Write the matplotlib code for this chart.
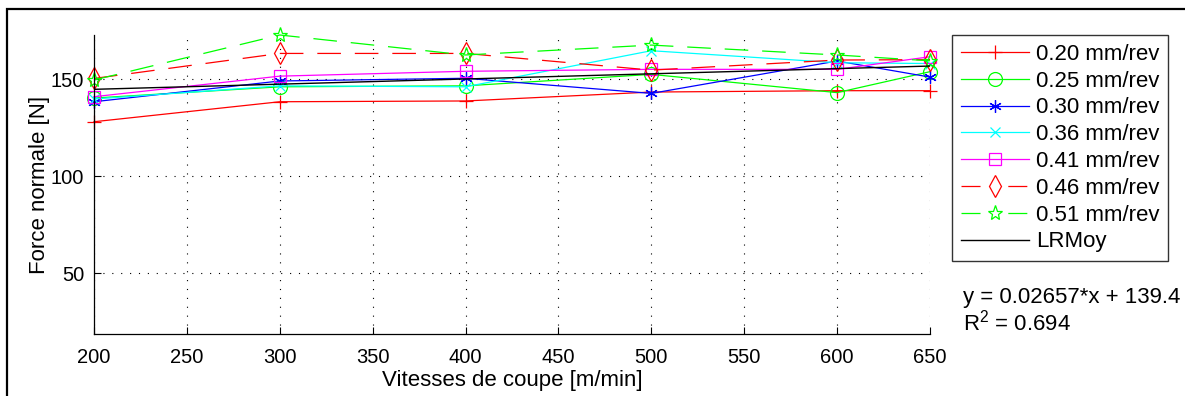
import matplotlib
matplotlib.use("Agg")
import matplotlib.pyplot as plt
from matplotlib.patches import Rectangle

plt.rcParams['font.family'] = ['Liberation Sans', 'DejaVu Sans']
plt.rcParams['mathtext.fontset'] = 'custom'
plt.rcParams['mathtext.rm'] = 'Liberation Sans'
plt.rcParams['mathtext.it'] = 'Liberation Sans'

# ---- data ----
speeds = [200, 300, 400, 500, 600, 650]
labels = ['0.20 mm/rev', '0.25 mm/rev', '0.30 mm/rev', '0.36 mm/rev',
          '0.41 mm/rev', '0.46 mm/rev', '0.51 mm/rev']
f020 = [128.0, 138.3, 138.7, 143.3, 144.0, 144.0]
f025 = [140.2, 146.0, 146.5, 152.4, 143.0, 153.8]
f030 = [138.3, 149.0, 150.4, 142.6, 159.3, 151.0]
f036 = [139.7, 146.5, 146.0, 164.6, 158.4, 158.0]
f041 = [140.9, 151.5, 154.0, 155.0, 155.0, 161.5]
f046 = [150.3, 163.2, 163.2, 154.6, 159.8, 160.0]
f051 = [149.5, 172.7, 162.4, 167.5, 162.4, 159.4]
series = [f020, f025, f030, f036, f041, f046, f051]
lr_x = [200, 650]
lr_y = [144.7, 156.7]
lr_label = 'LRMoy'
eq_text = 'y = 0.02657*x + 139.4'
r2_text = 'R$^2$ = 0.694'
xticks = [200, 250, 300, 350, 400, 450, 500, 550, 600, 650]
yticks = [50, 100, 150]

colors = ['#ff0000', '#00ff00', '#0000ff', '#00ffff', '#ff00ff', '#ff0000', '#00ff00']
markers = ['+', 'o', (6, 2, 0), 'x', 's', 'd', '*']
msizes = [10, 10, 9, 7, 8, 11, 11]
dashed = [False, False, False, False, False, True, True]

W, H = 1185, 396
fig = plt.figure(figsize=(W / 100, H / 100), dpi=100)
fig.patches.append(Rectangle((7 / W, -0.2), 1.5, 1.2 - 9 / H,
                             transform=fig.transFigure, fill=False,
                             edgecolor='black', linewidth=1.6, zorder=0))
ax = fig.add_axes([94 / W, 1 - 334 / H, (930 - 94) / W, (334 - 35) / H])

lw = 0.9
for vals, lab, c, m, ms, d in zip(series, labels, colors, markers, msizes, dashed):
    kw = dict(color=c, marker=m, markersize=ms, markerfacecolor='none',
              markeredgecolor=c, markeredgewidth=0.9, linewidth=lw, label=lab,
              clip_on=False)
    line, = ax.plot(speeds, vals, **kw)
    if d:
        line.set_dashes((17 / lw, 10 / lw))
ax.plot(lr_x, lr_y, color='black', linewidth=1.0, label=lr_label)

ax.set_xlim(200, 650)
ax.set_ylim(18.6, 172.7)
ax.set_xticks(xticks)
ax.set_yticks(yticks)
ax.tick_params(direction='in', length=5, width=0.8, labelsize=14.5,
               top=False, right=False)
ax.tick_params(axis='x', pad=10)
ax.tick_params(axis='y', pad=7)
for s in ['top', 'right']:
    ax.spines[s].set_visible(False)
for s in ['left', 'bottom']:
    ax.spines[s].set_linewidth(0.9)
ax.grid(True, color='black', linestyle=(0, (1, 7)), linewidth=0.8)
ax.set_axisbelow(True)

ax.set_xlabel('Vitesses de coupe [m/min]', fontsize=16, labelpad=2)
ax.set_ylabel('Force normale [N]', fontsize=16, labelpad=1)

leg = fig.legend(loc='upper left', bbox_to_anchor=(952 / W, 1 - 35 / H),
                 borderaxespad=0, fontsize=16, frameon=True, fancybox=False,
                 handlelength=3.05, handletextpad=0.32, labelspacing=0.26,
                 borderpad=0.4, edgecolor='black')
leg.get_frame().set_linewidth(1.0)
for lh, d in zip(leg.get_lines(), dashed + [False]):
    if d:
        lh.set_dashes((13.7 / lw, 20.0 / lw))

fig.text(963 / W, 1 - 297 / H, eq_text, fontsize=16, ha='left', va='center')
fig.text(963 / W, 1 - 323 / H, r2_text, fontsize=16, ha='left', va='center')

fig.savefig('out.png', dpi=100)
